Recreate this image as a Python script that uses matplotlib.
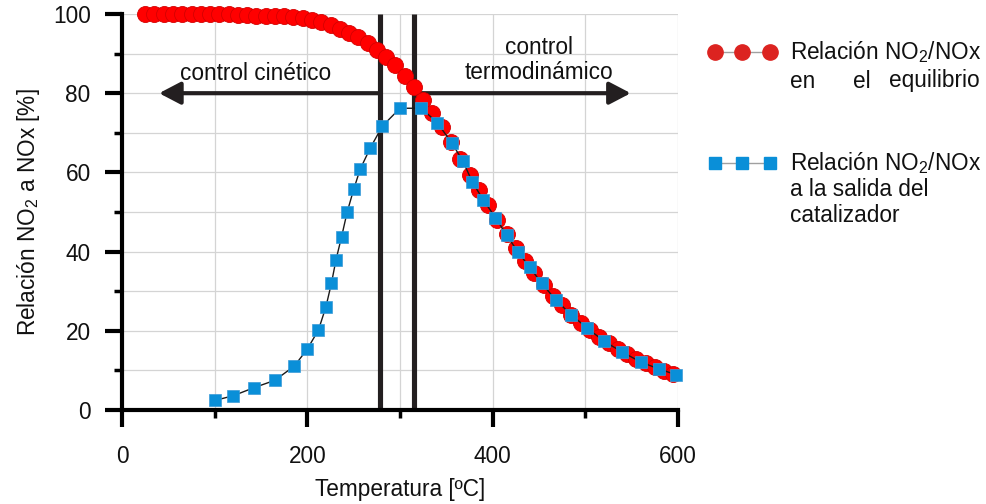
import matplotlib
matplotlib.use("Agg")
import matplotlib.pyplot as plt
from matplotlib.lines import Line2D
from matplotlib.ticker import MultipleLocator

plt.rcParams['font.family'] = ['Liberation Sans', 'DejaVu Sans']
plt.rcParams['mathtext.fontset'] = 'custom'
plt.rcParams['mathtext.rm'] = 'Liberation Sans'
plt.rcParams['mathtext.it'] = 'Liberation Sans'
plt.rcParams['mathtext.default'] = 'regular'

# Equilibrium NO2/NOx ratio (red circles)
eq_temp = [25, 35, 45, 55, 65, 75, 85, 95, 105, 115, 125, 135, 145, 155, 165, 175,
           185, 195, 205, 215, 225, 235, 245, 255, 265, 275, 285, 295, 305, 315,
           325, 335, 345, 355, 365, 375, 385, 395, 405, 415, 425, 435, 445, 455,
           465, 475, 485, 495, 505, 515, 525, 535, 545, 555, 565, 575, 585, 595]
eq_ratio = [100, 100, 100, 100, 100, 100, 100, 100, 99.9, 99.9, 99.8, 99.7, 99.6, 99.5,
            99.6, 99.4, 99.2, 98.9, 98.5, 97.9, 97.1, 96.2, 95.2, 94.2, 92.8, 91.0,
            89.2, 87.0, 84.4, 81.5, 78.4, 75.0, 71.5, 67.6, 63.4, 59.4, 55.5, 51.8,
            48.0, 44.4, 41.0, 37.6, 34.5, 31.6, 28.9, 26.4, 24.1, 22.0, 20.1, 18.4,
            16.8, 15.4, 14.1, 12.9, 11.8, 10.8, 9.9, 9.1]

# Catalyst outlet NO2/NOx ratio (blue squares)
cat_temp = [100, 120, 142, 165, 186, 200, 212, 220, 226, 231, 237, 243, 250, 257, 268,
            281, 300, 323, 340, 356, 368, 378, 390, 403, 415, 427, 440, 453, 468, 485,
            502, 520, 540, 560, 579, 598]
cat_ratio = [2.4, 3.6, 5.6, 7.5, 11.1, 15.4, 20.2, 26, 32, 38, 43.8, 50, 55.7, 60.8,
             66.2, 71.7, 76.2, 76.2, 72.6, 67.4, 62.8, 57.6, 53, 48.6, 44.2, 40, 36, 32,
             27.8, 24, 20.7, 17.4, 14.6, 12.1, 10.4, 8.9]

region_bounds = [278, 315]
arrow_y = 80
arrow_left_tip = 40
arrow_right_tip = 549

x_ticks = [0, 200, 400, 600]
y_ticks = [0, 20, 40, 60, 80, 100]

DARK = '#231f20'
RED = '#ff0000'
BLUE = '#0a8fd8'
TXT = '#111111'
FS = 16.3

W, H = 986, 504
fig = plt.figure(figsize=(W / 100, H / 100), dpi=100)
ax = fig.add_axes([122 / W, (H - 410) / H, 556 / W, 396 / H])

ax.set_xlim(0, 600)
ax.set_ylim(0, 100)

# grid
ax.xaxis.set_minor_locator(MultipleLocator(100))
ax.yaxis.set_minor_locator(MultipleLocator(10))
ax.set_xticks(x_ticks)
ax.set_yticks(y_ticks)
ax.grid(True, which='both', color='#d4d4d4', linewidth=0.9, zorder=0)
ax.set_axisbelow(True)

for s in ['top', 'right']:
    ax.spines[s].set_visible(False)
for s in ['left', 'bottom']:
    ax.spines[s].set_linewidth(3.0)
    ax.spines[s].set_color('black')
    ax.spines[s].set_zorder(6)

ax.tick_params(which='major', direction='out', length=12.5, width=3.0, color='black',
               labelsize=FS, labelcolor=TXT)
ax.tick_params(which='minor', direction='out', length=5.5, width=2.5, color='black')
ax.tick_params(axis='x', which='major', pad=13)
ax.tick_params(axis='y', which='major', pad=10)

# region boundaries
for xb in region_bounds:
    ax.plot([xb, xb], [0, 100], color=DARK, linewidth=3.7, zorder=5, solid_capstyle='butt')

# arrows
arrow_style = '-|>,head_length=0.65,head_width=0.34'
ax.annotate('', xy=(arrow_left_tip, arrow_y), xytext=(region_bounds[0], arrow_y),
            arrowprops=dict(arrowstyle=arrow_style, color=DARK, lw=3.0,
                            mutation_scale=20, shrinkA=0, shrinkB=0), zorder=4)
ax.annotate('', xy=(arrow_right_tip, arrow_y), xytext=(region_bounds[1], arrow_y),
            arrowprops=dict(arrowstyle=arrow_style, color=DARK, lw=3.0,
                            mutation_scale=20, shrinkA=0, shrinkB=0), zorder=4)

ax.text(144, 85.1, 'control cinético', fontsize=FS, ha='center', va='center', color=TXT)
ax.text(450, 88.3, 'control\ntermodinámico', fontsize=FS, ha='center', va='center',
        color=TXT, linespacing=1.12)

# data
ax.plot(eq_temp, eq_ratio, linestyle='none', marker='o', markersize=11.5,
        markerfacecolor=RED, markeredgecolor='#d40000', markeredgewidth=0.6,
        zorder=7, clip_on=False)
ax.plot(cat_temp, cat_ratio, color='#1a1a1a', linewidth=1.0, marker='s', markersize=8.5,
        markerfacecolor=BLUE, markeredgecolor='#3a9ad8', markeredgewidth=0.5,
        zorder=8, clip_on=False)

ax.set_xlabel('Temperatura [ºC]', fontsize=FS, labelpad=7, color=TXT)
ax.set_ylabel('Relación NO$_2$ a NOx [%]', fontsize=FS, labelpad=8, color=TXT)

# legend (manual)
def fx(px):
    return px / W

def fy(py):
    return 1 - py / H

fig.add_artist(Line2D([fx(715), fx(742), fx(770)], [fy(52)] * 3, color='#a0a0a0', lw=1.0,
                      marker='o', markersize=11, markerfacecolor='#dc2320',
                      markeredgecolor='#dc2320', transform=fig.transFigure))
fig.add_artist(Line2D([fx(715), fx(742), fx(770)], [fy(163)] * 3, color='#a0a0a0', lw=1.0,
                      marker='s', markersize=8, markerfacecolor=BLUE,
                      markeredgecolor=BLUE, transform=fig.transFigure))

fig.text(fx(790), fy(52), 'Relación NO$_2$/NOx', fontsize=FS, va='center', ha='left', color=TXT)
fig.text(fx(790), fy(81), 'en', fontsize=FS, va='center', ha='left', color=TXT)
fig.text(fx(862), fy(81), 'el', fontsize=FS, va='center', ha='center', color=TXT)
fig.text(fx(980), fy(81), 'equilibrio', fontsize=FS, va='center', ha='right', color=TXT)
fig.text(fx(790), fy(163), 'Relación NO$_2$/NOx', fontsize=FS, va='center', ha='left', color=TXT)
fig.text(fx(790), fy(190), 'a la salida del', fontsize=FS, va='center', ha='left', color=TXT)
fig.text(fx(790), fy(216), 'catalizador', fontsize=FS, va='center', ha='left', color=TXT)

fig.savefig('out.png', dpi=100)
